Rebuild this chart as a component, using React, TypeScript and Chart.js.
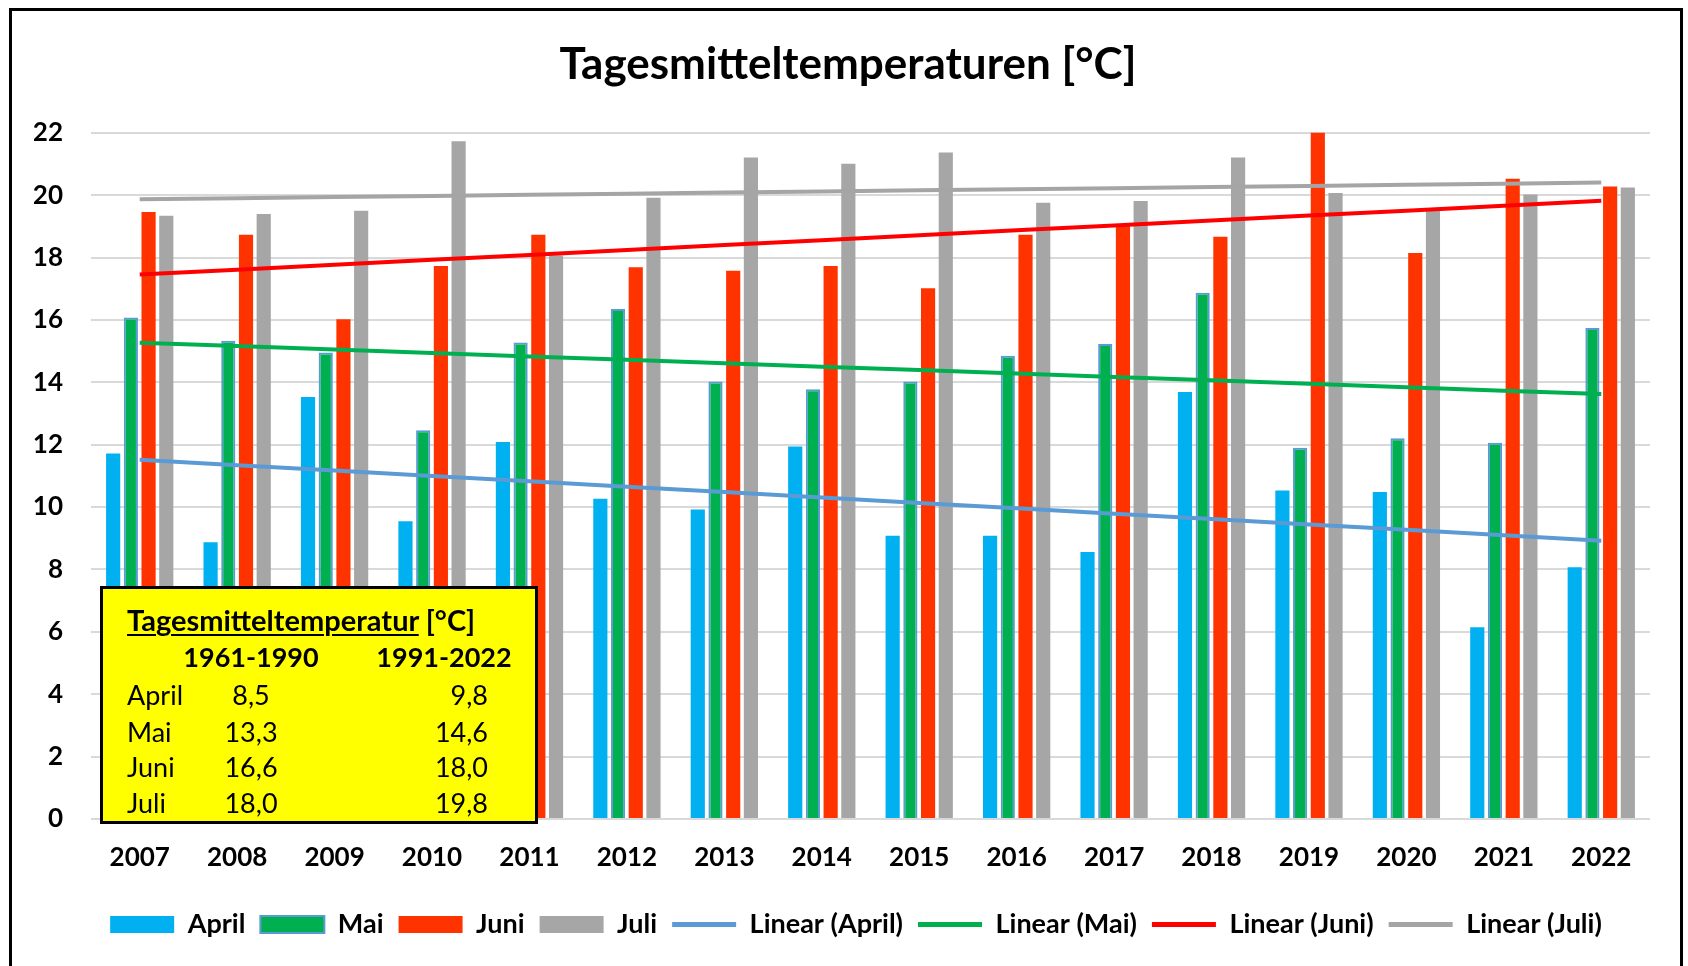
import React, { useEffect, useRef } from 'react';
import { Chart, registerables } from 'chart.js';

Chart.register(...registerables);

const years = ['2007', '2008', '2009', '2010', '2011', '2012', '2013', '2014', '2015', '2016', '2017', '2018', '2019', '2020', '2021', '2022'];
const april = [11.72, 8.87, 13.53, 9.55, 12.09, 10.27, 9.92, 11.94, 9.08, 9.08, 8.56, 13.69, 10.53, 10.48, 6.15, 8.07];
const mai = [16.08, 15.33, 14.96, 12.46, 15.28, 16.35, 14.03, 13.78, 14.03, 14.85, 15.23, 16.87, 11.9, 12.21, 12.06, 15.74];
const juni = [19.46, 18.73, 16.02, 17.73, 18.73, 17.69, 17.58, 17.73, 17.02, 18.73, 19.08, 18.67, 22.04, 18.15, 20.53, 20.28];
const juli = [19.34, 19.4, 19.5, 21.73, 18.07, 19.92, 21.21, 21.01, 21.37, 19.76, 19.81, 21.21, 20.07, 19.51, 20.02, 20.25];

const tableMonths = ['April', 'Mai', 'Juni', 'Juli'];
const tablePeriods = ['1961-1990', '1991-2022'];
const mean1961 = ['8,5', '13,3', '16,6', '18,0'];
const mean1991 = ['9,8', '14,6', '18,0', '19,8'];

function linearTrend(vals: number[]): number[] {
  const n = vals.length;
  const xm = (n - 1) / 2;
  const ym = vals.reduce((a, b) => a + b, 0) / n;
  let sxy = 0;
  let sxx = 0;
  vals.forEach((v, i) => {
    sxy += (i - xm) * (v - ym);
    sxx += (i - xm) * (i - xm);
  });
  const slope = sxy / sxx;
  return vals.map((_, i) => ym + slope * (i - xm));
}

const FONT = 'Lato';

// nudges the title and legend boxes horizontally after layout
const shiftBoxes = {
  id: 'shiftBoxes',
  afterLayout(chart: any) {
    if (chart.legend) {
      chart.legend.left += 14;
      chart.legend.right += 14;
    }
    if (chart.titleBlock) {
      chart.titleBlock.left += 6;
      chart.titleBlock.right += 6;
    }
  },
};

function App() {
  const canvasRef = useRef<HTMLCanvasElement | null>(null);

  useEffect(() => {
    const canvas = canvasRef.current;
    if (!canvas) return;
    Chart.defaults.font.family = FONT;
    const lineDs = (label: string, data: number[], color: string) => ({
      type: 'line' as const,
      label,
      data: linearTrend(data),
      borderColor: color,
      backgroundColor: color,
      borderWidth: 4,
      pointRadius: 0,
      tension: 0,
      fill: false,
      order: 0,
    });
    const chart = new Chart(canvas, {
      type: 'bar',
      data: {
        labels: years,
        datasets: [
          { type: 'bar', label: 'April', data: april, backgroundColor: '#00B0F0', borderWidth: 0, order: 1 },
          { type: 'bar', label: 'Mai', data: mai, backgroundColor: '#00B050', borderColor: '#5B9BD5', borderWidth: 2, order: 1 },
          { type: 'bar', label: 'Juni', data: juni, backgroundColor: '#FF3300', borderWidth: 0, order: 1 },
          { type: 'bar', label: 'Juli', data: juli, backgroundColor: '#A6A6A6', borderWidth: 0, order: 1 },
          lineDs('Linear (April)', april, '#5B9BD5'),
          lineDs('Linear (Mai)', mai, '#00B050'),
          lineDs('Linear (Juni)', juni, '#FF0000'),
          lineDs('Linear (Juli)', juli, '#A5A5A5'),
        ] as any,
      },
      plugins: [shiftBoxes],
      options: {
        responsive: false,
        animation: false,
        events: [],
        datasets: {
          bar: { categoryPercentage: 0.727, barPercentage: 0.8 },
        },
        layout: { padding: { left: 22, right: 30, top: 0, bottom: 18 } },
        scales: {
          x: {
            grid: { display: false, drawTicks: false },
            border: { display: false },
            ticks: { color: '#000', font: { family: FONT, size: 26, weight: 'bold' }, padding: 23, maxRotation: 0 },
            afterFit: (s: any) => { s.height = 77; },
          },
          y: {
            min: 0,
            max: 22,
            grid: { color: '#D9D9D9', lineWidth: 2, drawTicks: false },
            border: { display: false },
            ticks: { stepSize: 2, color: '#000', font: { family: FONT, size: 26, weight: 'bold' }, padding: 28 },
            afterFit: (s: any) => { s.width = 57; },
          },
        },
        plugins: {
          tooltip: { enabled: false },
          title: {
            display: true,
            text: 'Tagesmitteltemperaturen [°C]',
            color: '#000',
            font: { family: FONT, size: 44, weight: 'bold' },
            padding: { top: 27, bottom: 42 },
          },
          legend: {
            position: 'bottom',
            labels: {
              usePointStyle: true,
              pointStyleWidth: 64,
              boxHeight: 17,
              padding: 15,
              color: '#000',
              font: { family: FONT, size: 27, weight: 'bold' },
              generateLabels: (c: any) =>
                c.data.datasets.map((ds: any, i: number) => {
                  const isLine = ds.type === 'line';
                  return {
                    text: ds.label,
                    fillStyle: ds.backgroundColor,
                    strokeStyle: isLine ? ds.borderColor : ds.borderColor || ds.backgroundColor,
                    lineWidth: isLine ? 5 : ds.borderWidth || 0,
                    pointStyle: isLine ? 'line' : 'rect',
                    hidden: false,
                    datasetIndex: i,
                    fontColor: '#000',
                  };
                }),
            },
          },
        },
      } as any,
    });
    return () => chart.destroy();
  }, []);

  const rowTop = [106, 142.7, 177.7, 214.3];
  const lineBox = (center: number) => ({ position: 'absolute' as const, top: center - 20, height: 40, lineHeight: '40px', whiteSpace: 'nowrap' as const });

  return (
    <div style={{ position: 'fixed', left: 0, top: 0, width: 1688, height: 966, background: '#fff', overflow: 'hidden', fontFamily: FONT }}>
      <div style={{ position: 'absolute', left: 9, top: 8, width: 1668, height: 1000, border: '3px solid #000' }} />
      <canvas ref={canvasRef} width={1668} height={955} style={{ position: 'absolute', left: 12, top: 11, width: 1668, height: 955 }} />
      <div style={{ position: 'absolute', left: 100, top: 586, width: 438, height: 238, boxSizing: 'border-box', background: '#FFFF00', border: '3px solid #000', color: '#000', fontSize: 27 }}>
        <div style={{ ...lineBox(31), left: 24, fontWeight: 'bold', fontSize: 29 }}>
          <span style={{ textDecoration: 'underline', textDecorationThickness: 2, textUnderlineOffset: 3 }}>Tagesmitteltemperatur</span> [°C]
        </div>
        <div style={{ ...lineBox(67.7), left: 48, width: 200, textAlign: 'center', fontWeight: 'bold' }}>{tablePeriods[0]}</div>
        <div style={{ ...lineBox(67.7), left: 241, width: 200, textAlign: 'center', fontWeight: 'bold' }}>{tablePeriods[1]}</div>
        {tableMonths.map((m, i) => (
          <React.Fragment key={m}>
            <div style={{ ...lineBox(rowTop[i]), left: 24 }}>{m}</div>
            <div style={{ ...lineBox(rowTop[i]), left: 98, width: 100, textAlign: 'center' }}>{mean1961[i]}</div>
            <div style={{ ...lineBox(rowTop[i]), left: 285, width: 100, textAlign: 'right' }}>{mean1991[i]}</div>
          </React.Fragment>
        ))}
      </div>
    </div>
  );
}

export default App;
